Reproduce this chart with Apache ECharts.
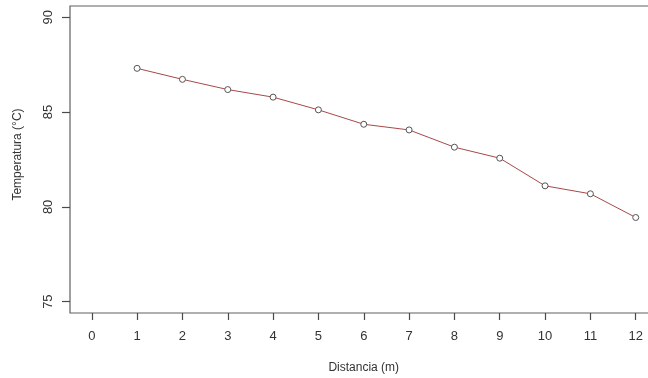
<!DOCTYPE html>
<html>
<head>
<meta charset="utf-8">
<script src="https://cdn.jsdelivr.net/npm/echarts@6/dist/echarts.min.js"></script>
<style>
  html, body { margin: 0; padding: 0; background: #fff; }
  #chart { width: 648px; height: 378px; }
</style>
</head>
<body>
<div id="chart"></div>
<script>
// Temperature measured along the distance (m)
const distancia = [1, 2, 3, 4, 5, 6, 7, 8, 9, 10, 11, 12];
const temperatura = [87.31, 86.73, 86.19, 85.79, 85.12, 84.36, 84.06, 83.15, 82.57, 81.11, 80.69, 79.44];
const xTicks = [0, 1, 2, 3, 4, 5, 6, 7, 8, 9, 10, 11, 12];
const yTicks = [75, 80, 85, 90];

const puntos = distancia.map((d, i) => [d, temperatura[i]]);
const font = '"Liberation Sans", Arial, sans-serif';

const chart = echarts.init(document.getElementById('chart'), null, { renderer: 'canvas' });
chart.setOption({
  animation: false,
  backgroundColor: '#ffffff',
  grid: {
    left: 70, top: 6, width: 587.5, height: 307,
    outerBoundsMode: 'none',
    show: true, borderColor: '#606060', borderWidth: 1.2, backgroundColor: 'transparent'
  },
  xAxis: {
    type: 'value',
    min: -0.48, max: 12.48,
    name: 'Distancia (m)',
    nameLocation: 'middle',
    nameGap: 49,
    nameTextStyle: { fontFamily: font, fontSize: 12, color: '#333' },
    axisLine: { show: false, onZero: false },
    splitLine: { show: false },
    axisTick: { show: true, customValues: xTicks, length: 7, inside: false, lineStyle: { color: '#4a4a4a', width: 1.2 } },
    axisLabel: { customValues: xTicks, fontFamily: font, fontSize: 13, color: '#333', margin: 17 }
  },
  yAxis: {
    type: 'value',
    min: 74.4, max: 90.6,
    name: 'Temperatura (°C)',
    nameLocation: 'middle',
    nameGap: 46,
    nameTextStyle: { fontFamily: font, fontSize: 12, color: '#333', padding: [0, 0, 0, 10] },
    axisLine: { show: false, onZero: false },
    splitLine: { show: false },
    axisTick: { show: true, customValues: yTicks, length: 8, lineStyle: { color: '#4a4a4a', width: 1.2 } },
    axisLabel: { customValues: yTicks, rotate: 90, fontFamily: font, fontSize: 13, color: '#333', margin: 15 }
  },
  series: [{
    type: 'line',
    data: puntos,
    symbol: 'circle',
    symbolSize: 6,
    showAllSymbol: true,
    lineStyle: { color: '#a84848', width: 1 },
    itemStyle: { color: '#ffffff', borderColor: '#555555', borderWidth: 1 },
    z: 3
  }]
});
</script>
</body>
</html>
